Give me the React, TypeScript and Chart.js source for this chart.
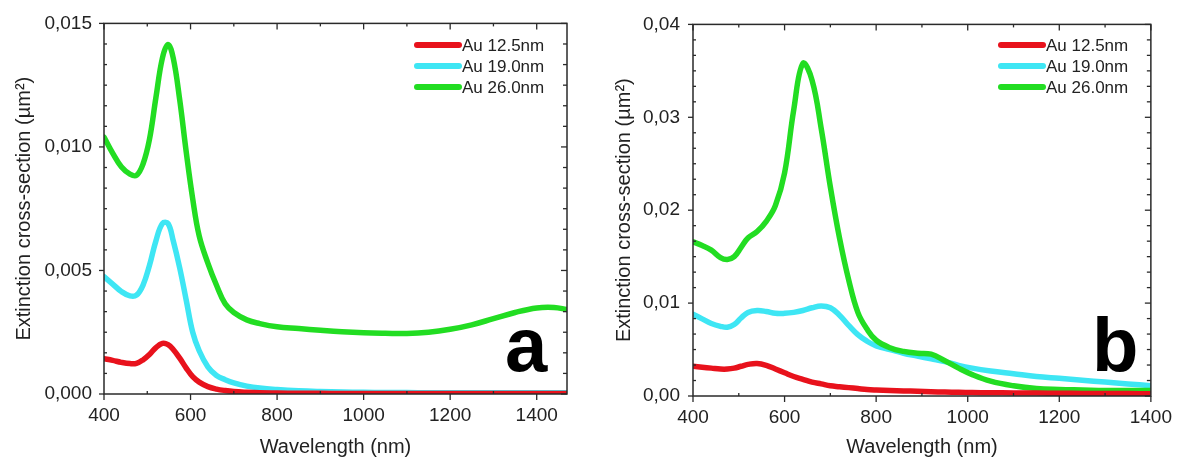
import React, { useEffect, useRef } from "react";
import { Chart, registerables } from "chart.js";

Chart.register(...registerables);

// ---------- data ----------
const seriesLabels = ["Au 12.5nm", "Au 19.0nm", "Au 26.0nm"];
const seriesColors = ["#e8121c", "#3ee6f4", "#22dd22"];

// Panel a
const wavelengthsA = [400, 420, 440, 460, 475, 490, 505, 520, 535, 548, 560, 575, 590, 605, 620, 640, 660, 680, 700, 730, 760, 800, 850, 900, 950, 1000, 1050, 1100, 1150, 1200, 1250, 1300, 1350, 1400, 1440, 1470];
const au125A = [0.00143, 0.00136, 0.00128, 0.00123, 0.00124, 0.00138, 0.0016, 0.00188, 0.00205, 0.002, 0.0018, 0.00145, 0.00105, 0.0007, 0.00048, 0.0003, 0.0002, 0.00014, 0.0001, 0.00007, 0.00005, 0.00004, 0.00003, 0.00003, 0.00002, 0.00002, 0.00002, 0.00002, 0.00002, 0.00002, 0.00002, 0.00002, 0.00002, 0.00002, 0.00002, 0.00002];
const au190A = [0.00475, 0.00445, 0.00415, 0.00397, 0.004, 0.0044, 0.0052, 0.0062, 0.0069, 0.0069, 0.0062, 0.0051, 0.0038, 0.0025, 0.00175, 0.0011, 0.00075, 0.00058, 0.00045, 0.00032, 0.00024, 0.00018, 0.00013, 0.0001, 0.00008, 0.00007, 0.00006, 0.00006, 0.00005, 0.00005, 0.00005, 0.00005, 0.00005, 0.00005, 0.00005, 0.00005];
const au260A = [0.0104, 0.00975, 0.0092, 0.0089, 0.00885, 0.0093, 0.0103, 0.012, 0.0136, 0.01415, 0.0136, 0.0119, 0.0098, 0.0079, 0.0064, 0.0053, 0.0044, 0.00365, 0.0033, 0.003, 0.00285, 0.00272, 0.00265, 0.00258, 0.00252, 0.00248, 0.00246, 0.00245, 0.0025, 0.00262, 0.0028, 0.00305, 0.0033, 0.00348, 0.0035, 0.00342];
const xTicksA = [400, 600, 800, 1000, 1200, 1400];
const yTicksA = [0, 0.005, 0.01, 0.015];

// Panel b
const wavelengthsB = [400, 420, 440, 460, 475, 490, 505, 520, 540, 560, 580, 600, 620, 640, 660, 680, 700, 720, 740, 760, 780, 800, 830, 860, 890, 920, 950, 980, 1010, 1050, 1100, 1150, 1200, 1250, 1300, 1350, 1400];
const au125B = [0.0032, 0.0031, 0.003, 0.0029, 0.0029, 0.003, 0.0032, 0.0034, 0.0035, 0.0033, 0.0029, 0.0025, 0.0021, 0.0018, 0.0015, 0.0013, 0.0011, 0.001, 0.0009, 0.0008, 0.0007, 0.00065, 0.0006, 0.00055, 0.0005, 0.00045, 0.00042, 0.0004, 0.00037, 0.00035, 0.00033, 0.00031, 0.0003, 0.00028, 0.00027, 0.00026, 0.00025];
const au190B = [0.0088, 0.0083, 0.0078, 0.0075, 0.0074, 0.0077, 0.0084, 0.009, 0.0092, 0.0091, 0.0089, 0.0089, 0.009, 0.0092, 0.0095, 0.0097, 0.0095, 0.0087, 0.0076, 0.0066, 0.0059, 0.0054, 0.005, 0.0046, 0.0043, 0.004, 0.0037, 0.0033, 0.003, 0.0027, 0.0024, 0.0021, 0.0019, 0.0017, 0.0015, 0.0013, 0.0011];
const au260B = [0.0166, 0.0162, 0.0157, 0.0149, 0.0147, 0.015, 0.016, 0.017, 0.0177, 0.0188, 0.0205, 0.024, 0.0308, 0.0358, 0.034, 0.0288, 0.0225, 0.017, 0.0125, 0.009, 0.0072, 0.006, 0.0052, 0.0048, 0.0046, 0.0045, 0.0038, 0.003, 0.0023, 0.0016, 0.0011, 0.0008, 0.0007, 0.00065, 0.0006, 0.0006, 0.0006];
const xTicksB = [400, 600, 800, 1000, 1200, 1400];
const yTicksB = [0, 0.01, 0.02, 0.03, 0.04];

const FONT = '"Liberation Sans", Arial, sans-serif';
const TEXT = "#222222";
const AXIS = "#2a2a2a";

type Panel = {
  wl: number[];
  series: number[][];
  orders: number[];
  xMax: number;
  xTicks: number[];
  yTicks: number[];
  decimals: number;
  letter: string;
  letterX: number;
  pad: { top: number; right: number };
  yAxisW: number;
  xAxisH: number;
  yTitlePad: number;
  yLabelPad: number;
  legendX: number;
  legendY: number;
};

function makeDecor(p: Panel) {
  return {
    id: "decor" + p.letter,
    afterDraw(chart: any) {
      const { ctx, chartArea } = chart;
      const { left, right, top, bottom } = chartArea;
      const xs = chart.scales.x;
      const ys = chart.scales.y;
      ctx.save();
      // frame
      ctx.strokeStyle = AXIS;
      ctx.lineWidth = 1.5;
      ctx.strokeRect(left, top, right - left, bottom - top);
      ctx.lineWidth = 1.3;
      const line = (x1: number, y1: number, x2: number, y2: number) => {
        ctx.beginPath();
        ctx.moveTo(x1, y1);
        ctx.lineTo(x2, y2);
        ctx.stroke();
      };
      // x ticks
      const xStep = p.xTicks[1] - p.xTicks[0];
      p.xTicks.forEach((v) => {
        const px = xs.getPixelForValue(v);
        line(px, bottom, px, bottom + 6);
        line(px, top, px, top + 6);
      });
      for (let v = p.xTicks[0] + xStep / 2; v < xs.max; v += xStep) {
        const px = xs.getPixelForValue(v);
        line(px, bottom - 3, px, bottom);
        line(px, top, px, top + 3);
      }
      // y ticks
      const yStep = p.yTicks[1] - p.yTicks[0];
      p.yTicks.forEach((v) => {
        const py = ys.getPixelForValue(v);
        line(left - 5, py, left, py);
        line(right - 6, py, right, py);
      });
      for (let i = 0; i < p.yTicks.length - 1; i++) {
        for (let k = 1; k < 6; k++) {
          const py = ys.getPixelForValue(p.yTicks[i] + (yStep * k) / 6);
          line(left, py, left + 3, py);
          line(right - 4, py, right, py);
        }
      }
      // legend
      chart.data.datasets.forEach((ds: any, i: number) => {
        const yy = p.legendY + i * 21;
        ctx.strokeStyle = ds.borderColor;
        ctx.lineWidth = 6;
        ctx.lineCap = "round";
        line(p.legendX, yy, p.legendX + 42, yy);
        ctx.fillStyle = TEXT;
        ctx.font = "17px " + FONT;
        ctx.textAlign = "left";
        ctx.textBaseline = "middle";
        ctx.fillText(ds.label, p.legendX + 45, yy + 1);
      });
      // panel letter
      ctx.fillStyle = "#000";
      ctx.font = "bold 76px " + FONT;
      ctx.textAlign = "left";
      ctx.textBaseline = "alphabetic";
      ctx.fillText(p.letter, p.letterX, 371);
      ctx.restore();
    },
  };
}

function makeConfig(p: Panel): any {
  const datasets = p.series.map((vals, i) => ({
    label: seriesLabels[i],
    data: p.wl.map((w, j) => ({ x: w, y: vals[j] })),
    borderColor: seriesColors[i],
    backgroundColor: seriesColors[i],
    borderWidth: 5.5,
    pointRadius: 0,
    tension: 0.4,
    borderJoinStyle: "round",
    borderCapStyle: "round",
    fill: false,
    order: p.orders[i],
  }));
  return {
    type: "line",
    data: { datasets },
    plugins: [makeDecor(p)],
    options: {
      responsive: false,
      animation: false,
      events: [],
      layout: { padding: { top: p.pad.top, right: p.pad.right, left: 0, bottom: 0 } },
      plugins: { legend: { display: false }, tooltip: { enabled: false } },
      scales: {
        x: {
          type: "linear",
          min: 400,
          max: p.xMax,
          afterBuildTicks: (s: any) => {
            s.ticks = p.xTicks.map((v) => ({ value: v }));
          },
          afterFit: (s: any) => {
            s.height = p.xAxisH;
          },
          grid: { display: false, drawTicks: false },
          border: { display: false },
          ticks: {
            padding: 10,
            color: TEXT,
            font: { family: FONT, size: 19 },
            maxRotation: 0,
            autoSkip: false,
            callback: (v: number) => String(v),
          },
          title: {
            display: true,
            text: "Wavelength (nm)",
            color: TEXT,
            font: { family: FONT, size: 20 },
            padding: { top: 0, bottom: 4 },
          },
        },
        y: {
          type: "linear",
          min: 0,
          max: p.yTicks[p.yTicks.length - 1],
          afterBuildTicks: (s: any) => {
            s.ticks = p.yTicks.map((v) => ({ value: v }));
          },
          afterFit: (s: any) => {
            s.width = p.yAxisW;
          },
          grid: { display: false, drawTicks: false },
          border: { display: false },
          ticks: {
            padding: p.yLabelPad,
            color: TEXT,
            font: { family: FONT, size: 19 },
            autoSkip: false,
            callback: (v: number) => v.toFixed(p.decimals).replace(".", ","),
          },
          title: {
            display: true,
            text: "Extinction cross-section (µm²)",
            color: TEXT,
            font: { family: FONT, size: 20 },
            padding: { top: p.yTitlePad, bottom: 0 },
          },
        },
      },
    },
  };
}

const panelA: Panel = {
  wl: wavelengthsA,
  series: [au125A, au190A, au260A],
  orders: [0, 1, 2],
  xMax: 1470,
  xTicks: xTicksA,
  yTicks: yTicksA,
  decimals: 3,
  letter: "a",
  letterX: 505,
  pad: { top: 18, right: 23 },
  yAxisW: 104,
  xAxisH: 69,
  yTitlePad: 12,
  yLabelPad: 12,
  legendX: 417,
  legendY: 45,
};

const panelB: Panel = {
  wl: wavelengthsB,
  series: [au125B, au190B, au260B],
  orders: [0, 2, 1],
  xMax: 1400,
  xTicks: xTicksB,
  yTicks: yTicksB,
  decimals: 2,
  letter: "b",
  letterX: 502,
  pad: { top: 16, right: 31 },
  yAxisW: 103,
  xAxisH: 67,
  yTitlePad: 22,
  yLabelPad: 13,
  legendX: 411,
  legendY: 45,
};

export default function App() {
  const refA = useRef<HTMLCanvasElement | null>(null);
  const refB = useRef<HTMLCanvasElement | null>(null);

  useEffect(() => {
    const a = new Chart(refA.current as HTMLCanvasElement, makeConfig(panelA));
    const b = new Chart(refB.current as HTMLCanvasElement, makeConfig(panelB));
    return () => {
      a.destroy();
      b.destroy();
    };
  }, []);

  return (
    <div style={{ position: "fixed", left: 0, top: 0, width: 1182, height: 463, background: "#ffffff" }}>
      <div style={{ position: "absolute", left: 0, top: 0, width: 590, height: 463 }}>
        <canvas ref={refA} width={590} height={463} />
      </div>
      <div style={{ position: "absolute", left: 590, top: 0, width: 592, height: 463 }}>
        <canvas ref={refB} width={592} height={463} />
      </div>
    </div>
  );
}
